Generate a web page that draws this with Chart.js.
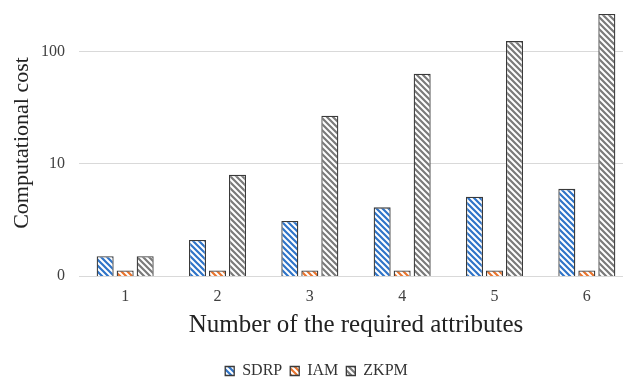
<!DOCTYPE html>
<html>
<head>
<meta charset="utf-8">
<script src="https://cdn.jsdelivr.net/npm/chart.js@4/dist/chart.umd.min.js"></script>
<style>
  html, body { margin: 0; padding: 0; background: #fff; overflow: hidden; }
  #wrap { width: 644px; height: 389px; position: relative; }
</style>
</head>
<body>
<div id="wrap"><canvas id="c"></canvas></div>
<script>
// Categories and series values
const categories = ['1', '2', '3', '4', '5', '6'];
const sdrp = [1.5, 2.1, 3.1, 4.1, 5.1, 6.0];
const iam  = [1.12, 1.12, 1.12, 1.12, 1.12, 1.12];
const zkpm = [1.5, 8, 27, 64, 125, 218];
// Tick positions on the log axis and how they are labelled
const tickValues = [1, 10, 100];
const tickLabels = ['0', '10', '100'];

// Diagonal hatch fill ("\" direction) used for each series
function hatch(color) {
  const s = 6;
  const t = document.createElement('canvas');
  t.width = s; t.height = s;
  const g = t.getContext('2d');
  g.fillStyle = '#fff';
  g.fillRect(0, 0, s, s);
  g.strokeStyle = color;
  g.lineWidth = 2.2;
  g.beginPath();
  for (let k = -1; k <= 1; k++) {
    g.moveTo(k * s - 1, -1);
    g.lineTo(k * s + s + 1, s + 1);
  }
  g.stroke();
  return g.createPattern(t, 'repeat');
}

const serif = '"Liberation Serif", "Times New Roman", serif';

new Chart(document.getElementById('c'), {
  type: 'bar',
  data: {
    labels: categories,
    datasets: [
      { label: 'SDRP', data: sdrp, backgroundColor: hatch('#2f74c8'), borderColor: '#3a3a3a', borderWidth: 1.3 },
      { label: 'IAM',  data: iam,  backgroundColor: hatch('#e8742e'), borderColor: '#3a3a3a', borderWidth: 1.3 },
      { label: 'ZKPM', data: zkpm, backgroundColor: hatch('#7a7a7a'), borderColor: '#3a3a3a', borderWidth: 1.3 }
    ]
  },
  options: {
    responsive: true,
    maintainAspectRatio: false,
    animation: false,
    layout: { padding: { top: 10, right: 11, bottom: 0, left: 0 } },
    datasets: { bar: { categoryPercentage: 0.65, barPercentage: 0.85 } },
    scales: {
      x: {
        grid: { display: false },
        border: { display: false },
        ticks: { color: '#404040', font: { family: serif, size: 16 }, padding: 3 },
        title: { display: true, text: 'Number of the required attributes', color: '#222',
                 font: { family: serif, size: 25 }, padding: { top: 0, bottom: 15 } },
        afterFit: s => { s.height = 79; }
      },
      y: {
        type: 'logarithmic',
        bounds: 'data',
        min: 1,
        max: 237,
        afterBuildTicks: s => { s.ticks = tickValues.map(v => ({ value: v })); },
        ticks: {
          color: '#404040', font: { family: serif, size: 16 }, padding: 0,
          callback: v => { const i = tickValues.indexOf(v); return i >= 0 ? tickLabels[i] : ''; }
        },
        // invisible tick marks keep the labels 14px clear of the plot
        grid: { color: '#d9d9d9', lineWidth: 1, drawTicks: true, tickLength: 14, tickColor: 'rgba(0,0,0,0)' },
        border: { display: false },
        title: { display: true, text: 'Computational cost', color: '#222',
                 font: { family: serif, size: 22 }, padding: { top: 9, bottom: 0 } },
        afterFit: s => { s.width = 79; }
      }
    },
    plugins: {
      legend: {
        position: 'bottom',
        labels: {
          boxWidth: 9, boxHeight: 9, padding: 8,
          color: '#333', font: { family: serif, size: 16 }
        }
      },
      tooltip: { enabled: false }
    }
  }
});
</script>
</body>
</html>
